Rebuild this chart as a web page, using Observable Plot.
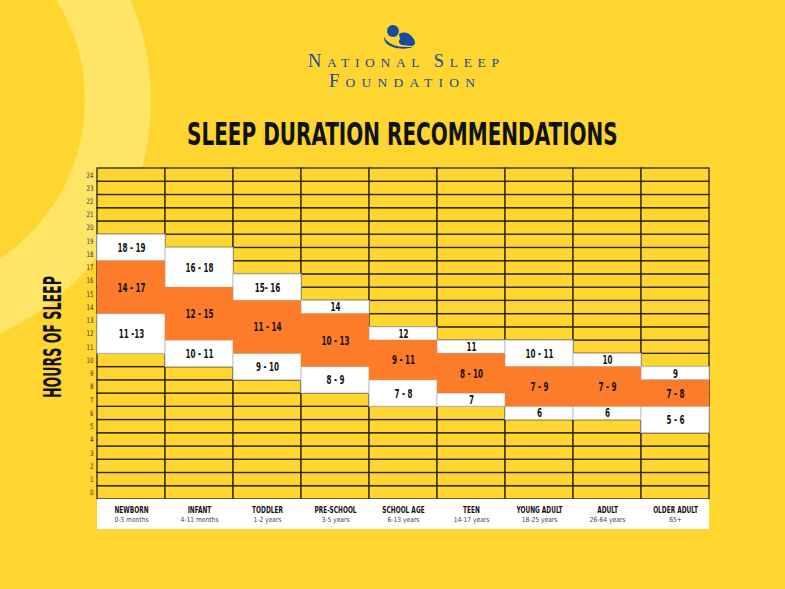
<!DOCTYPE html>
<html>
<head>
<meta charset="utf-8">
<script src="https://cdn.jsdelivr.net/npm/d3@7"></script>
<script src="https://cdn.jsdelivr.net/npm/@observablehq/plot@0.6"></script>
<style>
  html, body { margin: 0; padding: 0; }
  body { width: 785px; height: 589px; overflow: hidden; }
  #wrap { position: relative; width: 785px; height: 589px; background: #FFD630; overflow: hidden; }
  #bg, #chart, #overlay { position: absolute; left: 0; top: 0; margin: 0; }
  #bg { z-index: 0; } #chart { z-index: 1; } #overlay { z-index: 2; }
</style>
</head>
<body>
<div id="wrap">
  <svg id="bg" width="785" height="589">
    <circle cx="-105" cy="100" r="256" fill="#FFE566"/>
    <circle cx="-105" cy="100" r="190" fill="#FFD630"/>
  </svg>
  <div id="chart"></div>
  <svg id="overlay" width="785" height="589" style="pointer-events:none">
    <g fill="#1A4AA0">
      <circle cx="393" cy="31" r="6"/>
      <path d="M399,34 C404,31 410,33 413,38 C416,42 416,46 411,46 L402,45 C399,44 398,41 400,39 Z"/>
      <path d="M384,37 C388,44 396,47 406,47 L413,47 C405,50 393,49 387,44 C385,42 384,40 384,37 Z"/>
      <text x="308" y="67" textLength="191" lengthAdjust="spacing" font-family="'Liberation Serif','DejaVu Serif',serif"><tspan font-size="18.5">N</tspan><tspan font-size="13.5">ATIONAL</tspan><tspan font-size="13.5"> </tspan><tspan font-size="18.5">S</tspan><tspan font-size="13.5">LEEP</tspan></text>
      <text x="329" y="87" textLength="146" lengthAdjust="spacing" font-family="'Liberation Serif','DejaVu Serif',serif"><tspan font-size="18.5">F</tspan><tspan font-size="13.5">OUNDATION</tspan></text>
    </g>
    <g id="titleG" transform="translate(187,145)">
      <text id="title" x="0" y="0" font-size="32" font-weight="bold" fill="#111" font-family="'DejaVu Sans Condensed','Liberation Sans',sans-serif">SLEEP DURATION RECOMMENDATIONS</text>
    </g>
    <g id="ylabG" transform="translate(61,398) rotate(-90)">
      <text id="ylab" x="0" y="0" font-size="25" font-weight="bold" fill="#111" font-family="'DejaVu Sans Condensed','Liberation Sans',sans-serif">HOURS OF SLEEP</text>
    </g>
  </svg>
</div>
<script>
// ---- data ----
const categories = ["NEWBORN", "INFANT", "TODDLER", "PRE-SCHOOL", "SCHOOL AGE", "TEEN", "YOUNG ADULT", "ADULT", "OLDER ADULT"];
const ageRanges = ["0-3 months", "4-11 months", "1-2 years", "3-5 years", "6-13 years", "14-17 years", "18-25 years", "26-64 years", "65+"];
const recommendedLow = [14, 12, 11, 10, 9, 8, 7, 7, 7];
const recommendedHigh = [17, 15, 14, 13, 11, 10, 9, 9, 8];
const recommendedLabels = ["14 - 17", "12 - 15", "11 - 14", "10 - 13", "9 - 11", "8 - 10", "7 - 9", "7 - 9", "7 - 8"];
const belowLow = [11, 10, 9, 8, 7, 7, 6, 6, 5];
const belowHigh = [13, 11, 10, 9, 8, 7, 6, 6, 6];
const belowLabels = ["11 -13", "10 - 11", "9 - 10", "8 - 9", "7 - 8", "7", "6", "6", "5 - 6"];
const aboveLow = [18, 16, 15, 14, 12, 11, 10, 10, 9];
const aboveHigh = [19, 18, 16, 14, 12, 11, 11, 10, 9];
const aboveLabels = ["18 - 19", "16 - 18", "15- 16", "14", "12", "11", "10 - 11", "10", "9"];
const hourTicks = [0, 1, 2, 3, 4, 5, 6, 7, 8, 9, 10, 11, 12, 13, 14, 15, 16, 17, 18, 19, 20, 21, 22, 23, 24];

// ---- derived tables ----
const cells = categories.flatMap(c => hourTicks.map(h => ({cat: c, lo: h, hi: h + 1})));
const band = (lows, highs, labels) => categories.map((c, i) => ({cat: c, lo: lows[i], hi: highs[i] + 1, label: labels[i]}));
const recommended = band(recommendedLow, recommendedHigh, recommendedLabels);
const below = band(belowLow, belowHigh, belowLabels);
const above = band(aboveLow, aboveHigh, aboveLabels);
const cats = categories.map((c, i) => ({cat: c, age: ageRanges[i]}));

const font = "'DejaVu Sans Condensed','Liberation Sans',sans-serif";
const YELLOW = "#FFD630", ORANGE = "#FC7C2A";

const chart = Plot.plot({
  width: 785,
  height: 589,
  marginTop: 168,
  marginBottom: 60,
  marginLeft: 97,
  marginRight: 76,
  style: {background: "transparent", fontFamily: font, overflow: "visible"},
  x: {type: "band", domain: categories, padding: 0, axis: null},
  y: {domain: [-2.27, 25], axis: null},
  marks: [
    Plot.barY(cells, {x: "cat", y1: "lo", y2: "hi", fill: YELLOW, stroke: "#2a2618", strokeWidth: 1.3}),
    Plot.barY(cats, {x: "cat", y1: -2.27, y2: 0, fill: "white"}),
    Plot.barY(below, {x: "cat", y1: "lo", y2: "hi", fill: "white", stroke: "#c4c4c4", strokeWidth: 1}),
    Plot.barY(above, {x: "cat", y1: "lo", y2: "hi", fill: "white", stroke: "#c4c4c4", strokeWidth: 1}),
    Plot.barY(recommended, {x: "cat", y1: "lo", y2: "hi", fill: ORANGE}),
    Plot.text([...below, ...above, ...recommended], {
      x: "cat", y: d => (d.lo + d.hi) / 2, text: "label",
      fontSize: 12.5, fontWeight: "bold", fill: "#111"
    }),
    Plot.text(cats, {x: "cat", y: -0.82, text: "cat", fontSize: 9, fontWeight: "bold", fill: "#111"}),
    Plot.text(cats, {x: "cat", y: -1.52, text: "age", fontSize: 7, fill: "#444"}),
    Plot.text(hourTicks, {
      frameAnchor: "left", y: d => d + 0.5, text: d => String(d),
      dx: -4, textAnchor: "end", fontSize: 7.5, fill: "#333"
    })
  ]
});
document.getElementById("chart").appendChild(chart);

// narrow the text glyphs to mimic the condensed display face of the original
const groups = chart.querySelectorAll('g[aria-label="text"]');
const factors = [0.64, 0.72, 0.95, 0.8];
groups.forEach((g, i) => {
  const f = factors[i] ?? 1;
  g.querySelectorAll("text").forEach(t => {
    const w = t.getComputedTextLength();
    if (w > 0) {
      t.setAttribute("textLength", (w * f).toFixed(2));
      t.setAttribute("lengthAdjust", "spacingAndGlyphs");
    }
  });
});

// fit title and axis label to their widths by horizontal scaling
function fit(gId, tId, target, base) {
  const t = document.getElementById(tId);
  const w = t.getComputedTextLength();
  if (w > 0) t.setAttribute("transform", `scale(${(target / w).toFixed(4)},1)`);
}
fit("titleG", "title", 431);
fit("ylabG", "ylab", 122);
</script>
</body>
</html>
